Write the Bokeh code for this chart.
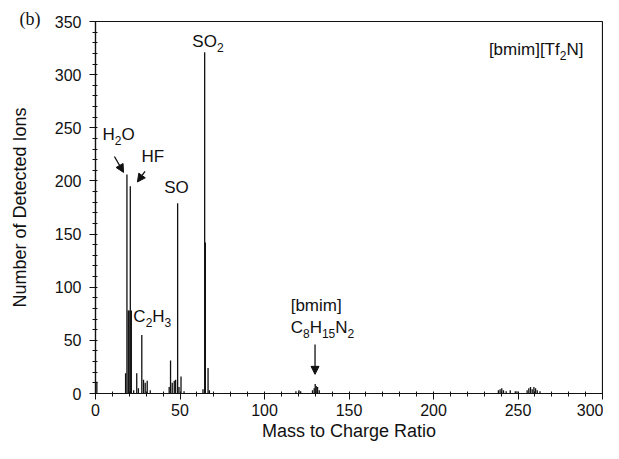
from bokeh.plotting import figure
from bokeh.models import Label, Arrow, NormalHead, SingleIntervalTicker, Title
from bokeh.embed import file_html
from bokeh.resources import INLINE

# ---- data ----
mz = [0.8, 17.8, 18.6, 19.4, 19.9, 20.6, 21.2, 22.6, 24.4, 25.4, 27.4, 28.4, 29.4, 30.6, 32.4,
      43.6, 44.4, 45.4, 46.6, 47.4, 48.6, 49.4, 50.6, 52.4,
      63.6, 64.6, 65.0, 66.6, 67.4,
      118.6, 120.4, 121.4, 128.4, 129.4, 130.0, 130.6, 131.4, 132.4,
      238.4, 239.4, 240.4, 241.4, 243.0, 245.4, 248.4, 249.4,
      255.4, 256.4, 257.4, 258.4, 259.4, 260.4, 261.4, 263.0]
counts = [11, 19, 206, 78, 78, 195, 78, 3, 19, 5, 55, 13, 10, 12, 3,
          6, 31, 10, 12, 13, 179, 6, 16, 2,
          4, 321, 142, 24, 3,
          2, 3, 2, 3, 5, 9, 7, 6, 3,
          3, 4, 5, 3, 2, 3, 2, 2,
          3, 5, 6, 4, 6, 5, 3, 2]

x_label = "Mass to Charge Ratio"
y_label = "Number of Detected Ions"
panel_tag = "(b)"

# annotations: (x, y, anchor, [(text, is_subscript), ...])
annotations = [
    (4.1, 243.7, "left", [("H", False), ("2", True), ("O", False)]),
    (27.2, 223.0, "left", [("HF", False)]),
    (40.7, 194.0, "left", [("SO", False)]),
    (57.3, 331.0, "left", [("SO", False), ("2", True)]),
    (288.7, 323.6, "right", [("[bmim][Tf", False), ("2", True), ("N]", False)]),
    (22.4, 72.7, "left", [("C", False), ("2", True), ("H", False), ("3", True)]),
    (115.5, 82.8, "left", [("[bmim]", False)]),
    (115.5, 61.8, "left", [("C", False), ("8", True), ("H", False), ("15", True),
                           ("N", False), ("2", True)]),
]
# arrows: (x_start, y_start, x_end, y_end)
arrows = [
    (11.2, 223.0, 16.6, 208.0),
    (29.3, 209.0, 24.8, 199.0),
    (129.9, 46.0, 129.9, 18.0),
]

FONT = "Liberation Sans"
INK = "#111111"

p = figure(width=603, height=443, x_range=(0, 300), y_range=(0, 350),
           output_backend="svg", toolbar_location=None,
           min_border_left=95, min_border_right=1, min_border_top=21,
           min_border_bottom=50)
p.background_fill_color = "white"
p.border_fill_color = "white"
p.outline_line_color = INK
p.outline_line_width = 1.2
p.xgrid.visible = False
p.ygrid.visible = False

p.segment(x0=mz, y0=[0] * len(mz), x1=mz, y1=counts, line_width=1.3, line_color=INK)

p.xaxis.ticker = SingleIntervalTicker(interval=50, num_minor_ticks=5)
p.yaxis.ticker = SingleIntervalTicker(interval=50, num_minor_ticks=5)
for ax in (p.xaxis[0], p.yaxis[0]):
    ax.axis_line_color = INK
    ax.axis_line_width = 1.2
    ax.major_tick_line_color = INK
    ax.minor_tick_line_color = INK
    ax.major_tick_in = 0
    ax.major_tick_out = 6
    ax.minor_tick_in = 2
    ax.minor_tick_out = 3
    ax.major_label_text_font = FONT
    ax.major_label_text_font_size = "16px"
    ax.major_label_text_color = INK
    ax.axis_label_text_font = FONT
    ax.axis_label_text_font_size = "18px"
    ax.axis_label_text_font_style = "normal"
    ax.axis_label_text_color = INK
p.xaxis.axis_label = x_label
p.yaxis.axis_label = y_label
p.xaxis.major_label_standoff = 4
p.xaxis.axis_label_standoff = 2
p.yaxis.major_label_standoff = 8
p.yaxis.axis_label_standoff = 22

# Arial/Liberation Sans advance widths (per 1000 em)
W = {"S": 667, "O": 778, "H": 722, "F": 611, "C": 722, "N": 722, "[": 278, "]": 278,
     "b": 556, "m": 833, "i": 222, "T": 611, "f": 278}


def text_width(s, size):
    return sum(W.get(ch, 556) for ch in s) * size / 1000.0


def rich_label(x, y, anchor, parts, size=17, sub_size=12):
    total = sum(text_width(t, sub_size if sub else size) for t, sub in parts)
    off = -total if anchor == "right" else 0.0
    for t, sub in parts:
        sz = sub_size if sub else size
        p.add_layout(Label(x=x, y=y, x_offset=off, y_offset=(-6 if sub else 0), text=t,
                           text_font=FONT, text_font_size=f"{sz}px", text_color=INK,
                           text_align="left", text_baseline="middle"))
        off += text_width(t, sz)


for x, y, anchor, parts in annotations:
    rich_label(x, y, anchor, parts)

for xs, ys, xe, ye in arrows:
    p.add_layout(Arrow(x_start=xs, y_start=ys, x_end=xe, y_end=ye, line_color=INK,
                       line_width=1.3,
                       end=NormalHead(size=8, fill_color=INK, line_color=INK)))

p.add_layout(Title(text=panel_tag, align="left", offset=-76, standoff=-14,
                   text_font="Liberation Serif", text_font_size="18px",
                   text_font_style="normal", text_color=INK), "above")

open("out.html", "w").write(file_html(p, INLINE))
